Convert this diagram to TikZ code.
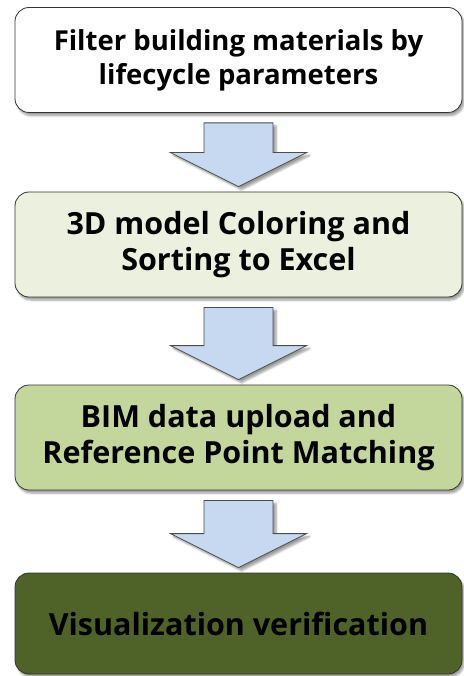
\documentclass[tikz,border=0pt]{standalone}
\usepackage{fontspec}
\setmainfont{Open Sans}
\usepackage{xcolor}
\usetikzlibrary{calc,shadows.blur}
\definecolor{stage one}{HTML}{FFFFFF}
\definecolor{stage two}{HTML}{EBF1DE}
\definecolor{stage three}{HTML}{C3D69B}
\definecolor{stage four}{HTML}{4F6228}
\definecolor{arrow area}{HTML}{C6D9F1}
\colorlet{box edge}{black!80}
\colorlet{arrow edge}{black!70}
\tikzset{stagebox/.style={draw=box edge, thick, rounded corners=14pt,
        minimum width=447pt, minimum height=105pt, align=center,
        font=\bfseries\fontsize{30.5}{36}\selectfont,
        blur shadow={shadow xshift=2pt, shadow yshift=-3pt, shadow blur steps=6}},
    blockarrow/.style={fill=arrow area, draw=arrow edge, thick, line join=miter,
        blur shadow={shadow xshift=3pt, shadow yshift=-3pt, shadow blur steps=6}}}
\newcommand{\flowarrow}[2]{%
    \draw[blockarrow] ($(#1.south)+(-34.5,10)$) -- ($(#1.south)+(34.5,10)$)
        -- ($(#2.north)+(34.5,-39)$) -- ($(#2.north)+(68,-39)$)
        -- ($(#2.north)+(0,-5)$) -- ($(#2.north)+(-68,-39)$)
        -- ($(#2.north)+(-34.5,-39)$) -- cycle;}

\begin{document}
\begin{tikzpicture}[x=1pt, y=-1pt]
    \useasboundingbox (0,0) rectangle (463,676);
    \node[stagebox, fill=stage one, font=\bfseries\fontsize{27.5}{34}\selectfont] (filter) at (238.5,60)
        {Filter building materials by\\lifecycle parameters};
    \node[stagebox, fill=stage two] (coloring) at (238.5,244.5)
        {3D model Coloring and\\Sorting to Excel};
    \node[stagebox, fill=stage three] (upload) at (238.5,437.5)
        {BIM data upload and\\Reference Point Matching};
    \node[stagebox, fill=stage four, minimum height=101pt] (verify) at (238.5,623.5)
        {Visualization verification};
    \flowarrow{filter}{coloring}
    \flowarrow{coloring}{upload}
    \flowarrow{upload}{verify}
\end{tikzpicture}
\end{document}
